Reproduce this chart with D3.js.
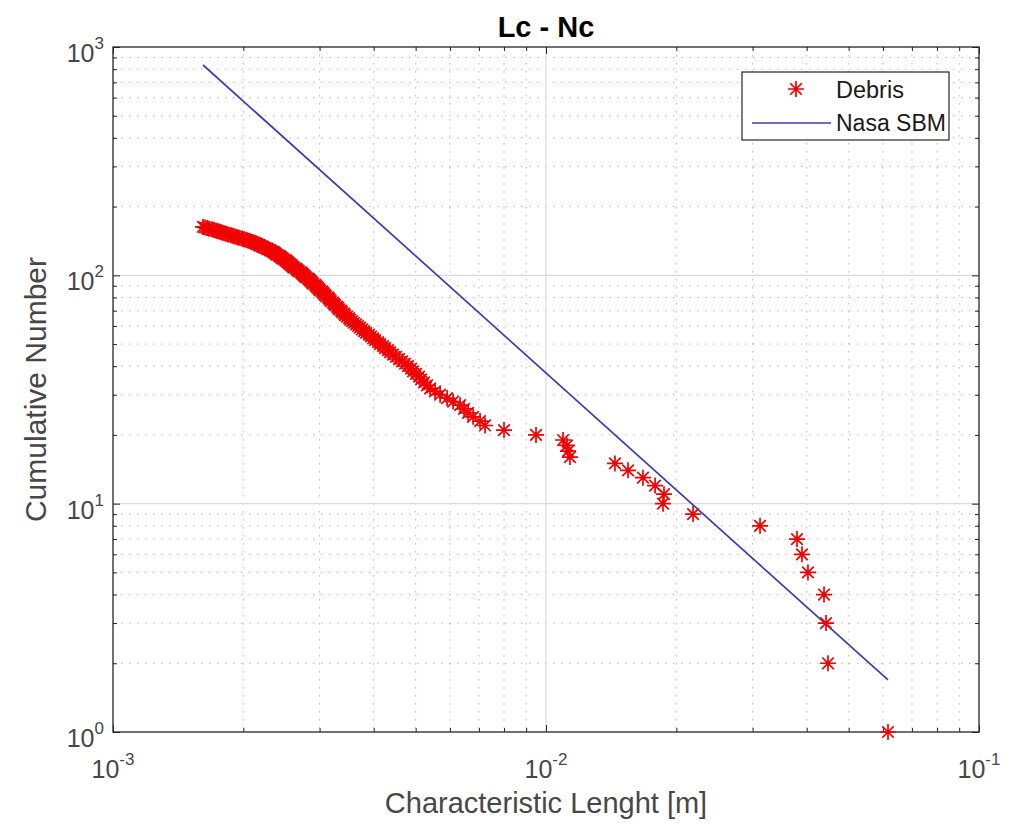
<!DOCTYPE html>
<html><head><meta charset="utf-8">
<script src="https://cdn.jsdelivr.net/npm/d3@7"></script>
<style>body{margin:0;background:#fff}svg{display:block}text{font-family:"Liberation Sans",Arial,sans-serif}</style>
</head><body><div id="chart"></div>
<script>
// ---- data ----
const debrisN = [1,2,3,4,5,6,7,8,9,10,11,12,13,14,15,16,17,18,19,20,21,22,23,24,25,26,27,28,29,30,
31,32,33,34,35,36,37,38,39,40,41,42,43,44,45,46,47,48,49,50,51,52,53,54,55,56,57,58,59,60,
61,62,63,64,65,66,67,68,69,70,71,72,73,74,75,76,77,78,79,80,81,82,83,84,85,86,87,88,89,90,
91,92,93,94,95,96,97,98,99,100,101,102,103,104,105,106,107,108,109,110,111,112,113,114,115,116,117,118,119,120,
121,122,123,124,125,126,127,128,129,130,131,132,133,134,135,136,137,138,139,140,141,142,143,144,145,146,147,148,149,150,
151,152,153,154,155,156,157,158,159,160,161,162,163];
const debrisLc = [0.06164,0.04480,0.04433,0.04386,0.04027,0.03901,0.03799,0.03121,0.02186,0.01863,
0.01873,0.01786,0.01675,0.01547,0.01443,0.01136,0.01124,0.01118,0.01095,0.009483,
0.007999,0.007231,0.007042,0.006785,0.006608,0.006468,0.006332,0.006101,0.005909,0.005694,
0.005544,0.005399,0.005314,0.005229,0.005147,0.005092,0.005011,0.004932,0.004880,0.004802,
0.004726,0.004652,0.004578,0.004505,0.004434,0.004364,0.004318,0.004249,0.004204,0.004138,
0.004094,0.004029,0.003986,0.003944,0.003902,0.003841,0.003800,0.003760,0.003720,0.003681,
0.003642,0.003603,0.003565,0.003527,0.003509,0.003472,0.003435,0.003417,0.003380,0.003363,
0.003327,0.003309,0.003292,0.003257,0.003240,0.003222,0.003188,0.003171,0.003155,0.003138,
0.003105,0.003088,0.003072,0.003055,0.003039,0.003007,0.002991,0.002975,0.002959,0.002944,
0.002928,0.002897,0.002882,0.002866,0.002851,0.002836,0.002821,0.002791,0.002776,0.002762,
0.002747,0.002732,0.002718,0.002689,0.002675,0.002661,0.002647,0.002619,0.002605,0.002591,
0.002577,0.002563,0.002550,0.002536,0.002523,0.002509,0.002496,0.002470,0.002457,0.002444,
0.002431,0.002418,0.002392,0.002379,0.002367,0.002354,0.002342,0.002317,0.002305,0.002280,
0.002268,0.002244,0.002221,0.002209,0.002185,0.002174,0.002151,0.002139,0.002117,0.002094,
0.002072,0.002050,0.002029,0.002007,0.001986,0.001954,0.001934,0.001913,0.001893,0.001873,
0.001843,0.001824,0.001805,0.001785,0.001767,0.001748,0.001729,0.001711,0.001693,0.001666,
0.001649,0.001631,0.001614];
const nasaLc = [0.001614, 0.06164];
const nasaN = [834, 1.69];
const xTickExp = [-3, -2, -1];
const yTickExp = [0, 1, 2, 3];
const titleText = "Lc - Nc";
const xLabelText = "Characteristic Lenght [m]";
const yLabelText = "Cumulative Number";
const legendLabels = ["Debris", "Nasa SBM"];

// ---- layout ----
const W = 1016, H = 826;
const L = 113, R = 979, T = 47, B = 732;
const txtCol = "#262626";
const lblCol = "#474747";

const svg = d3.select("#chart").append("svg").attr("width", W).attr("height", H);
const x = d3.scaleLog().domain([1e-3, 1e-1]).range([L, R]);
const y = d3.scaleLog().domain([1, 1000]).range([B, T]);

function minorVals(lo, hi) {
  const v = [];
  for (let e = lo; e < hi; e++) for (let m = 2; m <= 9; m++) v.push(m * Math.pow(10, e));
  return v;
}
const xMinor = minorVals(-3, -1), yMinor = minorVals(0, 3);
const xMajor = xTickExp.map(e => Math.pow(10, e)), yMajor = yTickExp.map(e => Math.pow(10, e));

// grid
const g = svg.append("g");
g.selectAll(".xmin").data(xMinor).join("line")
  .attr("x1", d => x(d)).attr("x2", d => x(d)).attr("y1", T).attr("y2", B)
  .attr("stroke", "#b8b8b8").attr("stroke-width", 1).attr("stroke-dasharray", "1.5,6.5");
g.selectAll(".ymin").data(yMinor).join("line")
  .attr("y1", d => y(d)).attr("y2", d => y(d)).attr("x1", L).attr("x2", R)
  .attr("stroke", "#b8b8b8").attr("stroke-width", 1).attr("stroke-dasharray", "1.5,6.5");
g.selectAll(".xmaj").data(xMajor.slice(1, -1)).join("line")
  .attr("x1", d => x(d)).attr("x2", d => x(d)).attr("y1", T).attr("y2", B)
  .attr("stroke", "#dadada").attr("stroke-width", 1.2);
g.selectAll(".ymaj").data(yMajor.slice(1, -1)).join("line")
  .attr("y1", d => y(d)).attr("y2", d => y(d)).attr("x1", L).attr("x2", R)
  .attr("stroke", "#dadada").attr("stroke-width", 1.2);

// axes with inward ticks on all sides
function styleAxis(sel) {
  sel.select(".domain").remove();
  sel.selectAll("line").attr("stroke", txtCol);
  sel.selectAll("text").remove();
}
const ax = [
  [d3.axisBottom(x), `translate(0,${B})`, xMinor, -4],
  [d3.axisBottom(x), `translate(0,${B})`, xMajor, -7],
  [d3.axisTop(x), `translate(0,${T})`, xMinor, -4],
  [d3.axisTop(x), `translate(0,${T})`, xMajor, -7],
  [d3.axisLeft(y), `translate(${L},0)`, yMinor, -4],
  [d3.axisLeft(y), `translate(${L},0)`, yMajor, -7],
  [d3.axisRight(y), `translate(${R},0)`, yMinor, -4],
  [d3.axisRight(y), `translate(${R},0)`, yMajor, -7]
];
ax.forEach(([a, tr, vals, len]) => {
  svg.append("g").attr("transform", tr).call(a.tickValues(vals).tickSize(len).tickFormat("")).call(styleAxis);
});
svg.append("rect").attr("x", L).attr("y", T).attr("width", R - L).attr("height", B - T)
  .attr("fill", "none").attr("stroke", txtCol).attr("stroke-width", 1.3);

// tick labels
xTickExp.forEach(e => {
  const t = svg.append("text").attr("x", x(Math.pow(10, e))).attr("y", B + 46)
    .attr("text-anchor", "middle").attr("fill", lblCol).attr("font-size", 25);
  t.append("tspan").text("10");
  t.append("tspan").attr("dy", -13).attr("font-size", 17).text(String(e));
});
yTickExp.forEach(e => {
  const t = svg.append("text").attr("x", L - 9).attr("y", y(Math.pow(10, e)) + 15)
    .attr("text-anchor", "end").attr("fill", lblCol).attr("font-size", 25);
  t.append("tspan").text("10");
  t.append("tspan").attr("dy", -13).attr("font-size", 17).text(String(e));
});

// title & labels
svg.append("text").attr("x", (L + R) / 2).attr("y", 37).attr("text-anchor", "middle")
  .attr("font-weight", "bold").attr("font-size", 29).attr("fill", "#000").text(titleText);
svg.append("text").attr("x", (L + R) / 2).attr("y", 813).attr("text-anchor", "middle")
  .attr("font-size", 29).attr("fill", lblCol).text(xLabelText);
svg.append("text").attr("transform", `translate(46,${(T + B) / 2}) rotate(-90)`).attr("text-anchor", "middle")
  .attr("font-size", 30).attr("fill", lblCol).text(yLabelText);

// nasa line
const line = d3.line().x(d => x(d[0])).y(d => y(d[1]));
svg.append("path").datum(nasaLc.map((v, i) => [v, nasaN[i]]))
  .attr("d", line).attr("fill", "none").attr("stroke", "#3c3cb0").attr("stroke-width", 1.7);

// asterisk marker
const s = 8, sd = s * 0.72;
const star = `M${-s},0H${s}M0,${-s}V${s}M${-sd},${-sd}L${sd},${sd}M${-sd},${sd}L${sd},${-sd}`;
svg.append("g").selectAll("path").data(debrisLc.map((v, i) => [v, debrisN[i]])).join("path")
  .attr("transform", d => `translate(${x(d[0])},${y(d[1])})`)
  .attr("d", star).attr("fill", "none").attr("stroke", "#f00000").attr("stroke-width", 1.7);

// legend
const lg = svg.append("g");
lg.append("rect").attr("x", 742).attr("y", 72).attr("width", 207).attr("height", 68)
  .attr("fill", "#fff").attr("stroke", txtCol).attr("stroke-width", 1.2);
lg.append("path").attr("transform", "translate(796,89)").attr("d", star)
  .attr("fill", "none").attr("stroke", "#f00000").attr("stroke-width", 1.7);
lg.append("line").attr("x1", 752).attr("x2", 831).attr("y1", 123).attr("y2", 123)
  .attr("stroke", "#3c3cb0").attr("stroke-width", 1.7);
lg.append("text").attr("x", 836).attr("y", 98).attr("font-size", 23.5).attr("fill", "#1a1a1a").text(legendLabels[0]);
lg.append("text").attr("x", 836).attr("y", 131).attr("font-size", 23).attr("fill", "#1a1a1a").text(legendLabels[1]);
</script></body></html>
